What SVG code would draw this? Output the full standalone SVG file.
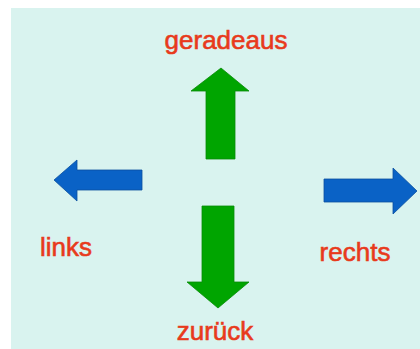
<svg xmlns="http://www.w3.org/2000/svg" width="420" height="349" viewBox="0 0 420 349">
<style>
.lbl{font-family:"Liberation Sans",Arial,sans-serif;font-size:26px;fill:#e83a1c;stroke:#e83a1c;stroke-width:0.6;text-anchor:middle}
.g{fill:#00a500;stroke:#078a07;stroke-width:0.8}
.b{fill:#0a62c6;stroke:#0a4f9e;stroke-width:0.8}
</style>
<rect x="0" y="0" width="420" height="349" fill="#ffffff"/>
<rect x="11" y="8" width="409" height="341" fill="#d9f3ef"/>
<g id="geradeaus">
<polygon class="g" points="221,68 249,91 235,91 235,159 206,159 206,91 191,91"/>
<text class="lbl" x="226" y="49">geradeaus</text>
</g>
<g id="zurueck">
<polygon class="g" points="202,206 234,206 234,282 249,282 218,308 187,282 202,282"/>
<text class="lbl" x="215" y="340">zurück</text>
</g>
<g id="links">
<polygon class="b" points="54,180 77,160 77,170 142,170 142,190 77,190 77,201"/>
<text class="lbl" x="66" y="256">links</text>
</g>
<g id="rechts">
<polygon class="b" points="324,179 393,179 393,168 417,191 393,214 393,202 324,202"/>
<text class="lbl" x="355" y="261">rechts</text>
</g>
<g id="connectors"></g>
</svg>
